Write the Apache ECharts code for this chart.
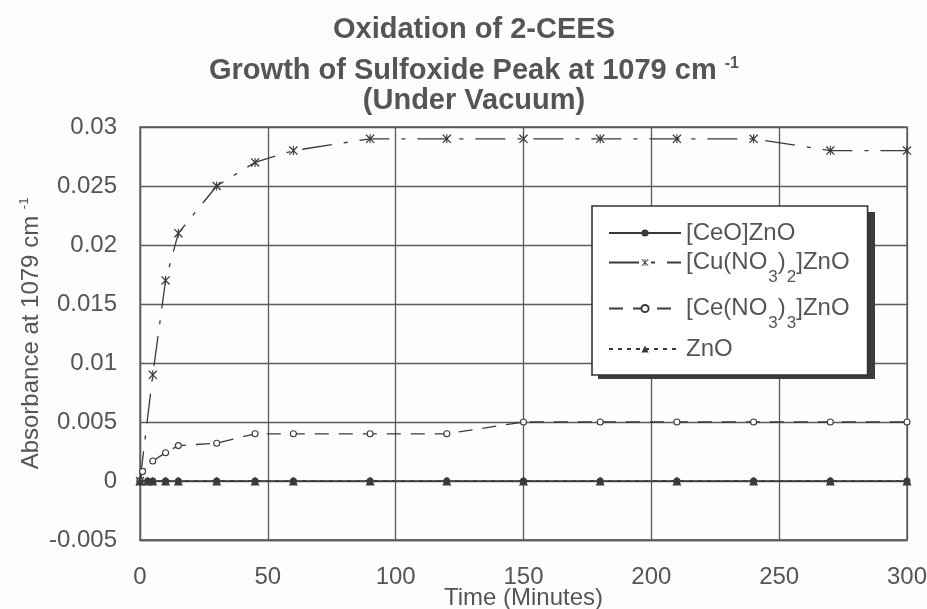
<!DOCTYPE html>
<html>
<head>
<meta charset="utf-8">
<script src="https://cdn.jsdelivr.net/npm/echarts@6/dist/echarts.min.js"></script>
<style>
  html, body { margin: 0; padding: 0; background: #fdfdfd; }
  #chart { width: 927px; height: 609px; }
</style>
</head>
<body>
<div id="chart"></div>
<script>
// ---- chart text ----
const titleLine1 = 'Oxidation of 2-CEES';
const titleLine2 = 'Growth of Sulfoxide Peak at 1079 cm ';
const titleLine2Sup = '-1';
const titleLine3 = '(Under Vacuum)';
const xAxisTitle = 'Time (Minutes)';
const yAxisTitle = 'Absorbance at 1079 cm ';
const yAxisTitleSup = '-1';

const seriesNames = ['[CeO]ZnO', '[Cu(NO3)2]ZnO', '[Ce(NO3)3]ZnO', 'ZnO'];

// ---- measured absorbance vs. time (minutes) ----
const ceoTime = [0, 3, 5, 10, 15, 30, 45, 60, 90, 120, 150, 180, 210, 240, 270, 300];
const ceoAbs  = [0, 0, 0, 0, 0, 0, 0, 0, 0, 0, 0, 0, 0, 0, 0, 0];

const cuTime = [0, 5, 10, 15, 30, 45, 60, 90, 120, 150, 180, 210, 240, 270, 300];
const cuAbs  = [0, 0.009, 0.017, 0.021, 0.025, 0.027, 0.028, 0.029, 0.029, 0.029, 0.029, 0.029, 0.029, 0.028, 0.028];

const ceTime = [0, 1, 5, 10, 15, 30, 45, 60, 90, 120, 150, 180, 210, 240, 270, 300];
const ceAbs  = [0, 0.0008, 0.0017, 0.0024, 0.003, 0.0032, 0.004, 0.004, 0.004, 0.004, 0.005, 0.005, 0.005, 0.005, 0.005, 0.005];

const znoTime = [0, 3, 5, 10, 15, 30, 45, 60, 90, 120, 150, 180, 210, 240, 270, 300];
const znoAbs  = [0, 0, 0, 0, 0, 0, 0, 0, 0, 0, 0, 0, 0, 0, 0, 0];

// ---- axis ticks ----
const xMin = 0, xMax = 300, xStep = 50;
const yTickLabels = ['-0.005', '0', '0.005', '0.01', '0.015', '0.02', '0.025', '0.03'];
const yMin = -0.005, yMax = 0.03, yStep = 0.005;

// ---- styling ----
const FONT = '"Liberation Sans", Arial, Helvetica, sans-serif';
const INK = '#3a3a3a';
const TEXT = '#555555';
const GRID = '#5a5a5a';

const pairs = (xs, ys) => xs.map((x, i) => [x, ys[i]]);

// asterisk-like marker (x with a vertical stroke)
const starMarker = 'path://M0,1 L1,0 L10,9 L9,10 Z M9,0 L10,1 L1,10 L0,9 Z M4.4,0 L5.6,0 L5.6,10 L4.4,10 Z';

// legend labels with chemical subscripts; row heights come from token padding
const legendRich = {
  m:  { fontSize: 24, fontFamily: FONT, color: TEXT },
  s:  { fontSize: 17, lineHeight: 16, padding: [35, 0, 5, 1], fontFamily: FONT, color: TEXT },
  pz: { fontSize: 2, lineHeight: 2, padding: [22, 0, 22, 0], fontFamily: FONT, color: TEXT }
};
const legendLabels = {
  '[CeO]ZnO': '{m|[CeO]ZnO}',
  '[Cu(NO3)2]ZnO': '{m|[Cu(NO}{s|3}{m|)}{s|2}{m|]ZnO}',
  '[Ce(NO3)3]ZnO': '{m|[Ce(NO}{s|3}{m|)}{s|3}{m|]ZnO}',
  'ZnO': '{m|ZnO}{pz| }'
};

const chart = echarts.init(document.getElementById('chart'), null, { renderer: 'canvas' });

chart.setOption({
  animation: false,
  backgroundColor: '#fdfdfd',
  graphic: [
    {
      type: 'text', x: 474, y: 30,
      style: { text: titleLine1, font: 'bold 29px ' + FONT, fill: TEXT, align: 'center', verticalAlign: 'middle' }
    },
    {
      type: 'text', x: 474, y: 71,
      style: {
        text: '{m|' + titleLine2 + '}{s|' + titleLine2Sup + '}',
        align: 'center', verticalAlign: 'middle',
        rich: {
          m: { fontSize: 29, fontWeight: 'bold', fontFamily: FONT, fill: TEXT, color: TEXT, lineHeight: 30 },
          s: { fontSize: 16, fontWeight: 'bold', fontFamily: FONT, fill: TEXT, color: TEXT, lineHeight: 16, verticalAlign: 'top' }
        }
      }
    },
    {
      type: 'text', x: 474, y: 101,
      style: { text: titleLine3, font: 'bold 29px ' + FONT, fill: TEXT, align: 'center', verticalAlign: 'middle' }
    },
    // drop shadow behind the legend box
    {
      type: 'rect', z: 3, silent: true,
      shape: { x: 598, y: 212, width: 277, height: 167 },
      style: { fill: '#3c3c3c' }
    }
  ],
  grid: {
    left: 140, right: 20, top: 127, bottom: 69,
    outerBoundsMode: 'none', containLabel: false,
    show: true, borderColor: GRID, borderWidth: 1.3, backgroundColor: 'transparent'
  },
  xAxis: {
    type: 'value', min: xMin, max: xMax, interval: xStep,
    name: xAxisTitle, nameLocation: 'middle', nameGap: 46, nameMoveOverlap: false,
    nameTextStyle: { fontSize: 24, color: TEXT, fontFamily: FONT },
    axisLine: { show: true, onZero: false, lineStyle: { color: GRID, width: 1.3 } },
    axisTick: { show: false },
    axisLabel: { fontSize: 24, color: TEXT, fontFamily: FONT, margin: 25 },
    splitLine: { show: true, lineStyle: { color: GRID, width: 1.3 } }
  },
  yAxis: {
    type: 'value', min: yMin, max: yMax, interval: yStep,
    name: '{n|' + yAxisTitle + '}{s|' + yAxisTitleSup + '}',
    nameLocation: 'middle', nameGap: 96, nameRotate: 90, nameMoveOverlap: false,
    nameTextStyle: {
      fontSize: 24, color: TEXT, fontFamily: FONT,
      rich: {
        n: { fontSize: 24, color: TEXT, fontFamily: FONT, lineHeight: 26 },
        s: { fontSize: 13, color: TEXT, fontFamily: FONT, lineHeight: 13, verticalAlign: 'top' }
      }
    },
    axisLine: { show: true, lineStyle: { color: GRID, width: 1.3 } },
    axisTick: { show: false },
    axisLabel: {
      fontSize: 24, color: TEXT, fontFamily: FONT, margin: 23,
      formatter: v => yTickLabels[Math.round((v - yMin) / yStep)]
    },
    splitLine: { show: true, lineStyle: { color: GRID, width: 1.3 } }
  },
  legend: {
    orient: 'vertical', left: 592, top: 206, z: 4,
    itemWidth: 72, itemHeight: 9, itemGap: -11,
    padding: [15, 18, 3, 16],
    backgroundColor: '#ffffff', borderColor: '#333333', borderWidth: 1.6, borderRadius: 0,
    selectedMode: false,
    data: seriesNames,
    formatter: name => legendLabels[name],
    textStyle: { fontSize: 24, color: TEXT, fontFamily: FONT, rich: legendRich }
  },
  series: [
    {
      name: seriesNames[0], type: 'line', data: pairs(ceoTime, ceoAbs),
      symbol: 'circle', symbolSize: 7, z: 3,
      lineStyle: { color: INK, width: 1.4, type: 'solid' },
      itemStyle: { color: INK }
    },
    {
      name: seriesNames[1], type: 'line', data: pairs(cuTime, cuAbs),
      symbol: starMarker, symbolSize: 9, z: 4,
      lineStyle: { color: INK, width: 1.3, type: [30, 12, 4, 12] },
      itemStyle: { color: INK }
    },
    {
      name: seriesNames[2], type: 'line', data: pairs(ceTime, ceAbs),
      symbol: 'circle', symbolSize: 6, z: 5,
      lineStyle: { color: INK, width: 1.3, type: [14, 10] },
      itemStyle: { color: '#ffffff', borderColor: INK, borderWidth: 1.1 }
    },
    {
      name: seriesNames[3], type: 'line', data: pairs(znoTime, znoAbs),
      symbol: 'triangle', symbolSize: 9, z: 6,
      lineStyle: { color: INK, width: 1.3, type: [4, 5] },
      itemStyle: { color: INK }
    }
  ]
});
</script>
</body>
</html>
